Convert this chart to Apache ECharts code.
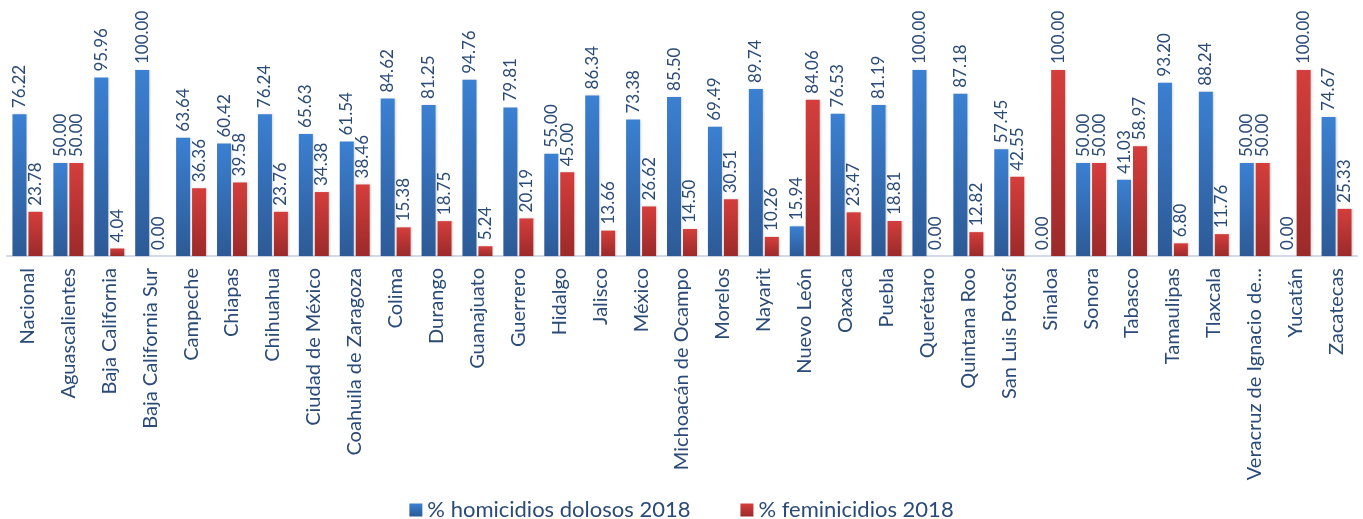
<!DOCTYPE html>
<html><head><meta charset="utf-8">
<script src="https://cdn.jsdelivr.net/npm/echarts@6/dist/echarts.min.js"></script>
<style>html,body{margin:0;padding:0;background:#fff}#c{width:1363px;height:519px}</style>
</head><body><div id="c"></div>
<script>
const categories = ["Nacional","Aguascalientes","Baja California","Baja California Sur","Campeche","Chiapas","Chihuahua","Ciudad de México","Coahuila de Zaragoza","Colima","Durango","Guanajuato","Guerrero","Hidalgo","Jalisco","México","Michoacán de Ocampo","Morelos","Nayarit","Nuevo León","Oaxaca","Puebla","Querétaro","Quintana Roo","San Luis Potosí","Sinaloa","Sonora","Tabasco","Tamaulipas","Tlaxcala","Veracruz de Ignacio de...","Yucatán","Zacatecas"];
const homicidios = [76.22,50.00,95.96,100.00,63.64,60.42,76.24,65.63,61.54,84.62,81.25,94.76,79.81,55.00,86.34,73.38,85.50,69.49,89.74,15.94,76.53,81.19,100.00,87.18,57.45,0.00,50.00,41.03,93.20,88.24,50.00,0.00,74.67];
const feminicidios = [23.78,50.00,4.04,0.00,36.36,39.58,23.76,34.38,38.46,15.38,18.75,5.24,20.19,45.00,13.66,26.62,14.50,30.51,10.26,84.06,23.47,18.81,0.00,12.82,42.55,100.00,50.00,58.97,6.80,11.76,50.00,100.00,25.33];
const seriesNames = ["% homicidios dolosos 2018","% feminicidios 2018"];

const FONT = "Lato";
const TXT = "#2a4a78";
function grad(top, bot){return new echarts.graphic.LinearGradient(0,0,0,1,[{offset:0,color:top},{offset:1,color:bot}]);}
const chart = echarts.init(document.getElementById('c'));
const lbl = {show:true, position:'top', rotate:90, align:'left', verticalAlign:'middle', distance:6,
  color:TXT, fontFamily:FONT, fontSize:17, formatter:p=>p.value.toFixed(2)};
chart.setOption({
  animation:false,
  textStyle:{fontFamily:FONT},
  grid:{left:7, right:6, top:70, height:186},
  legend:{top:494, itemWidth:13, itemHeight:13, itemGap:50, icon:'rect',
    textStyle:{color:TXT, fontFamily:FONT, fontSize:22},
    data:[{name:seriesNames[0], itemStyle:{color:grad('#3b80d2','#2d5a96')}},{name:seriesNames[1], itemStyle:{color:grad('#d43e3c','#9b2a2a')}}]},
  xAxis:{type:'category', data:categories,
    axisLine:{lineStyle:{color:'#d3dae5', width:2}}, axisTick:{show:false},
    axisLabel:{rotate:90, interval:0, margin:12, color:TXT, fontFamily:FONT, fontSize:20}},
  yAxis:{type:'value', min:0, max:100, show:false, splitLine:{show:false}},
  series:[
    {name:seriesNames[0], type:'bar', data:homicidios, barWidth:14, barGap:'14%',
      itemStyle:{color:grad('#3b80d2','#2d5a96'), shadowColor:'rgba(0,0,0,0.15)', shadowBlur:2, shadowOffsetX:1},
      label:lbl},
    {name:seriesNames[1], type:'bar', data:feminicidios, barWidth:14,
      itemStyle:{color:grad('#d43e3c','#9b2a2a'), shadowColor:'rgba(0,0,0,0.15)', shadowBlur:2, shadowOffsetX:1},
      label:lbl}
  ]
});
</script></body></html>
